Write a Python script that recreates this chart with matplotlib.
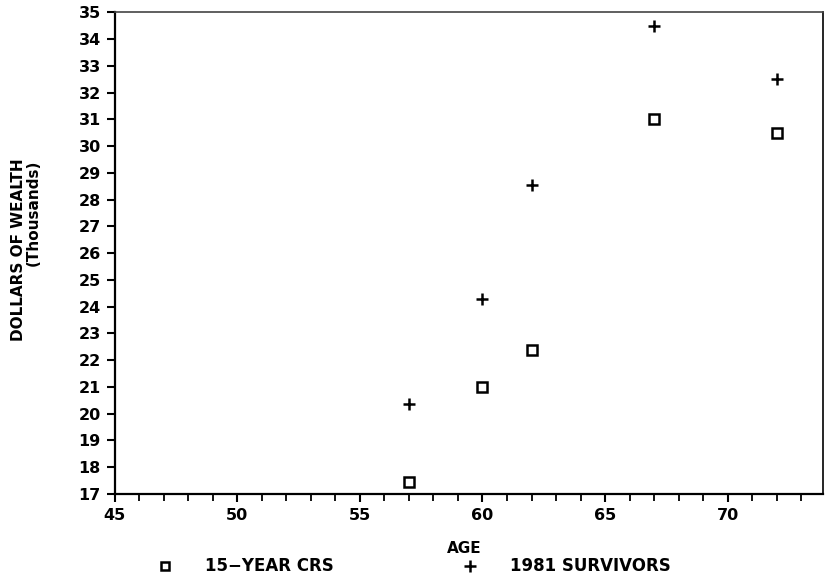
import matplotlib
matplotlib.use("Agg")
import matplotlib.pyplot as plt
from matplotlib.ticker import MultipleLocator

ages = [57, 60, 62, 67, 72]
crs_15yr = [17.43, 21.0, 22.37, 31.0, 30.47]
survivors_1981 = [20.35, 24.3, 28.55, 34.48, 32.5]
x_ticks = [45, 50, 55, 60, 65, 70]
y_ticks = list(range(17, 36))

plt.rcParams['font.family'] = ['DejaVu Sans']
plt.rcParams['font.weight'] = 'bold'

fig = plt.figure(figsize=(8.25, 5.83), dpi=100)
ax = fig.add_axes([0.139, 0.153, 0.859, 0.826])

ax.plot(ages, crs_15yr, linestyle='none', marker='s', markersize=6.5,
        markerfacecolor='white', markeredgecolor='black', markeredgewidth=1.8)
ax.plot(ages, survivors_1981, linestyle='none', marker='+', markersize=8,
        color='black', markeredgewidth=1.8)

ax.set_xlim(45, 73.9)
ax.set_ylim(17, 35)
ax.set_xticks(x_ticks)
ax.xaxis.set_minor_locator(MultipleLocator(1))
ax.set_yticks(y_ticks)
ax.tick_params(axis='both', which='major', direction='out', length=6, width=1.5,
               labelsize=11.5, pad=4)
ax.tick_params(axis='x', which='minor', direction='out', length=5, width=1.3)
for name, s in ax.spines.items():
    s.set_linewidth(1.6)
ax.spines['top'].set_linewidth(1.2)
ax.spines['top'].set_color('#444444')
ax.spines['right'].set_linewidth(1.2)
for lbl in ax.get_xticklabels() + ax.get_yticklabels():
    lbl.set_fontweight('bold')

fig.text(0.022, 0.571, 'DOLLARS OF WEALTH', rotation=90, ha='center', va='center',
         fontsize=11, fontweight='bold')
fig.text(0.040, 0.635, '(Thousands)', rotation=90, ha='center', va='center',
         fontsize=11, fontweight='bold')
fig.text(0.563, 0.060, 'AGE', ha='center', va='center', fontsize=11, fontweight='bold')

# legend drawn in figure coordinates
fig.lines.append(plt.Line2D([0.200], [0.030], transform=fig.transFigure, marker='s',
                            markersize=6, markerfacecolor='white', markeredgecolor='black',
                            markeredgewidth=1.8, linestyle='none'))
fig.text(0.248, 0.030, '15\u2212YEAR CRS', ha='left', va='center', fontsize=12, fontweight='bold')
fig.lines.append(plt.Line2D([0.570], [0.030], transform=fig.transFigure, marker='+',
                            markersize=8, color='black', markeredgewidth=1.8, linestyle='none'))
fig.text(0.618, 0.030, '1981 SURVIVORS', ha='left', va='center', fontsize=12, fontweight='bold')

fig.savefig('out.png', dpi=100, facecolor='white')
